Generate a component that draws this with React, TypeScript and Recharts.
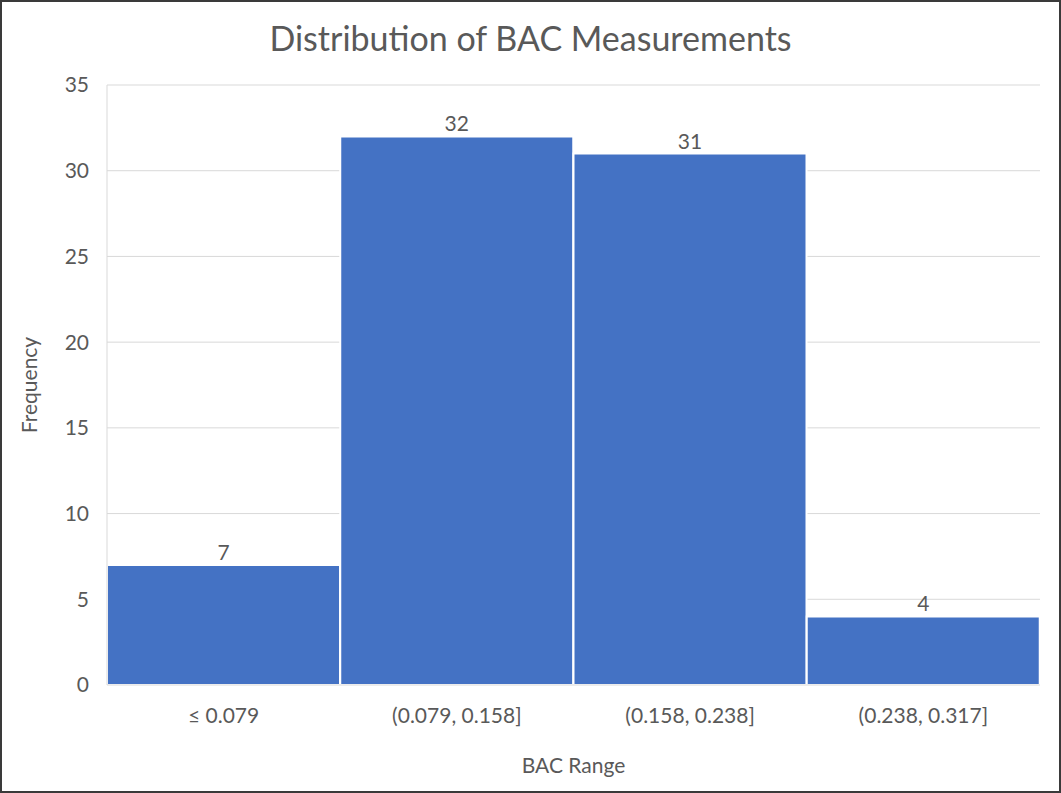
import { Bar, BarChart, CartesianGrid, LabelList, XAxis, YAxis } from "recharts";

const ranges = ["≤ 0.079", "(0.079, 0.158]", "(0.158, 0.238]", "(0.238, 0.317]"];
const counts = [7, 32, 31, 4];
const yTicks = [0, 5, 10, 15, 20, 25, 30, 35];

const data = ranges.map((range, i) => ({ range, count: counts[i] }));

const FONT = "Lato, 'Open Sans', sans-serif";
const TEXT = "#595959";

export default function App() {
  return (
    <div
      style={{
        position: "absolute",
        left: 0,
        top: 0,
        width: 1061,
        height: 793,
        boxSizing: "border-box",
        border: "2px solid #3a3a3a",
        background: "#fff",
        fontFamily: FONT,
      }}
    >
      <div
        style={{
          position: "absolute",
          top: 15,
          left: 0,
          width: "100%",
          textAlign: "center",
          fontSize: 34,
          lineHeight: "42px",
          color: TEXT,
        }}
      >
        Distribution of BAC Measurements
      </div>
      <BarChart
        width={1057}
        height={789}
        data={data}
        barCategoryGap={0}
        margin={{ top: 83, right: 19, bottom: 10, left: 20 }}
        style={{ position: "absolute", left: 0, top: 0 }}
      >
        <CartesianGrid vertical={false} stroke="#d9d9d9" />
        <XAxis
          dataKey="range"
          height={96}
          axisLine={{ stroke: "#d9d9d9" }}
          tickLine={false}
          tickMargin={17}
          tick={{ fontSize: 21, fill: TEXT, fontFamily: FONT }}
          label={{
            value: "BAC Range",
            position: "insideBottom",
            offset: 8,
            fontSize: 21,
            fill: TEXT,
            fontFamily: FONT,
          }}
        />
        <YAxis
          width={85}
          domain={[0, 35]}
          ticks={yTicks}
          axisLine={{ stroke: "#d9d9d9" }}
          tickLine={false}
          tickMargin={12}
          tick={{ fontSize: 21, fill: TEXT, fontFamily: FONT }}
          label={{
            value: "Frequency",
            angle: -90,
            position: "insideLeft",
            offset: 8,
            style: { textAnchor: "middle" },
            fontSize: 21,
            fill: TEXT,
            fontFamily: FONT,
          }}
        />
        <Bar dataKey="count" fill="#4472C4" stroke="#fff" strokeWidth={2} isAnimationActive={false}>
          <LabelList dataKey="count" position="top" fill={TEXT} fontSize={21} fontFamily={FONT} offset={5} />
        </Bar>
      </BarChart>
    </div>
  );
}
